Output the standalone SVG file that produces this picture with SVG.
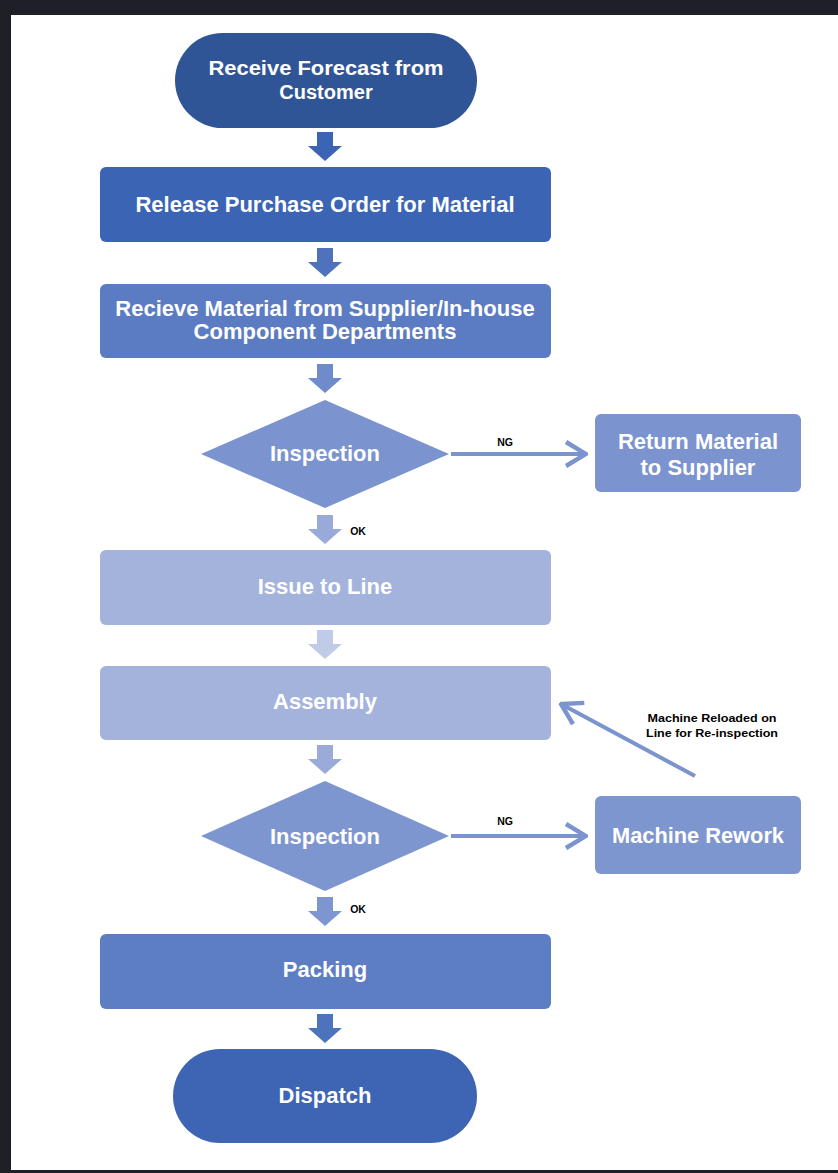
<svg xmlns="http://www.w3.org/2000/svg" width="838" height="1173" viewBox="0 0 838 1173">
<defs>
<style>
.t{font-family:"Liberation Sans",Arial,sans-serif;font-weight:bold;font-size:22px;fill:#ffffff;text-anchor:middle;dominant-baseline:central}
.tc{font-family:"Liberation Sans",Arial,sans-serif;font-weight:bold;font-size:20px;fill:#ffffff;text-anchor:middle;dominant-baseline:central}
.s{font-family:"Liberation Sans",Arial,sans-serif;font-weight:bold;font-size:10.5px;fill:#000000;text-anchor:middle;dominant-baseline:central}
.ln{fill:none;stroke:#7b93ce;stroke-width:4}
</style>
<marker id="chev" viewBox="0 0 12 14" refX="11" refY="7" markerWidth="6" markerHeight="7" markerUnits="strokeWidth" orient="auto">
<path d="M1,1 L11,7 L1,13" fill="none" stroke="#7b93ce" stroke-width="2.2" stroke-linejoin="miter"/>
</marker>
<path id="barrow" d="M-8,0 H8 V14 H17 L0,29 L-17,14 H-8 Z"/>
</defs>
<rect x="0" y="0" width="838" height="1173" fill="#ffffff"/>
<rect x="0" y="0" width="838" height="15" fill="#1e1f27"/>
<rect x="0" y="0" width="11" height="1173" fill="#1e1f27"/>
<rect x="0" y="1170" width="838" height="3" fill="#1e1f27"/>

<g id="n_forecast">
<rect x="175" y="33" width="302" height="95" rx="47.5" fill="#2f5597"/>
<text class="tc" x="326" y="68" textLength="235" lengthAdjust="spacingAndGlyphs">Receive Forecast from</text>
<text class="tc" x="326" y="92">Customer</text>
</g>
<g id="n_po">
<rect x="100" y="167" width="451" height="75" rx="6" fill="#3b65b4"/>
<text class="t" x="325" y="204">Release Purchase Order for Material</text>
</g>
<g id="n_receive">
<rect x="100" y="284" width="451" height="74" rx="6" fill="#5b7cc3"/>
<text class="t" x="325" y="308">Recieve Material from Supplier/In-house</text>
<text class="t" x="325" y="331">Component Departments</text>
</g>
<g id="n_insp1">
<polygon points="325,400 449,454 325,508 201,454" fill="#7b93ce"/>
<text class="t" x="325" y="453">Inspection</text>
</g>
<g id="n_return">
<rect x="595" y="414" width="206" height="78" rx="6" fill="#7b93ce"/>
<text class="t" x="698" y="441">Return Material</text>
<text class="t" x="698" y="467">to Supplier</text>
</g>
<g id="n_issue">
<rect x="100" y="550" width="451" height="75" rx="6" fill="#a4b3dc"/>
<text class="t" x="325" y="586">Issue to Line</text>
</g>
<g id="n_assembly">
<rect x="100" y="666" width="451" height="74" rx="6" fill="#a4b3dc"/>
<text class="t" x="325" y="701">Assembly</text>
</g>
<g id="n_insp2">
<polygon points="325,781 449,836 325,891 201,836" fill="#7e96d0"/>
<text class="t" x="325" y="836">Inspection</text>
</g>
<g id="n_rework">
<rect x="595" y="796" width="206" height="78" rx="6" fill="#7e96d0"/>
<text class="t" x="698" y="835" textLength="172" lengthAdjust="spacingAndGlyphs">Machine Rework</text>
</g>
<g id="n_packing">
<rect x="100" y="934" width="451" height="75" rx="6" fill="#5e7ec4"/>
<text class="t" x="325" y="969">Packing</text>
</g>
<g id="n_dispatch">
<rect x="173" y="1049" width="304" height="94" rx="47" fill="#3d65b3"/>
<text class="t" x="325" y="1095">Dispatch</text>
</g>

<g id="connectors">
<use href="#barrow" x="325" y="132" fill="#3b65b4"/>
<use href="#barrow" x="325" y="248" fill="#4f72bd"/>
<use href="#barrow" x="325" y="364" fill="#6f8bcb"/>
<use href="#barrow" x="325" y="515" fill="#98a9da"/>
<use href="#barrow" x="325" y="630" fill="#c0cbe8"/>
<use href="#barrow" x="325" y="745" fill="#9aaad9"/>
<use href="#barrow" x="325" y="897" fill="#7e96d0"/>
<use href="#barrow" x="325" y="1014" fill="#4e73bd"/>
<line class="ln" x1="451" y1="454" x2="586" y2="454" marker-end="url(#chev)"/>
<line class="ln" x1="451" y1="836" x2="586" y2="836" marker-end="url(#chev)"/>
<line class="ln" x1="695" y1="776" x2="561" y2="704" marker-end="url(#chev)"/>
<text class="s" x="505" y="442">NG</text>
<text class="s" x="358" y="531">OK</text>
<text class="s" x="505" y="821">NG</text>
<text class="s" x="358" y="909">OK</text>
<text class="s" x="712" y="718" textLength="129" lengthAdjust="spacingAndGlyphs">Machine Reloaded on</text>
<text class="s" x="712" y="733" textLength="132" lengthAdjust="spacingAndGlyphs">Line for Re-inspection</text>
</g>
</svg>
